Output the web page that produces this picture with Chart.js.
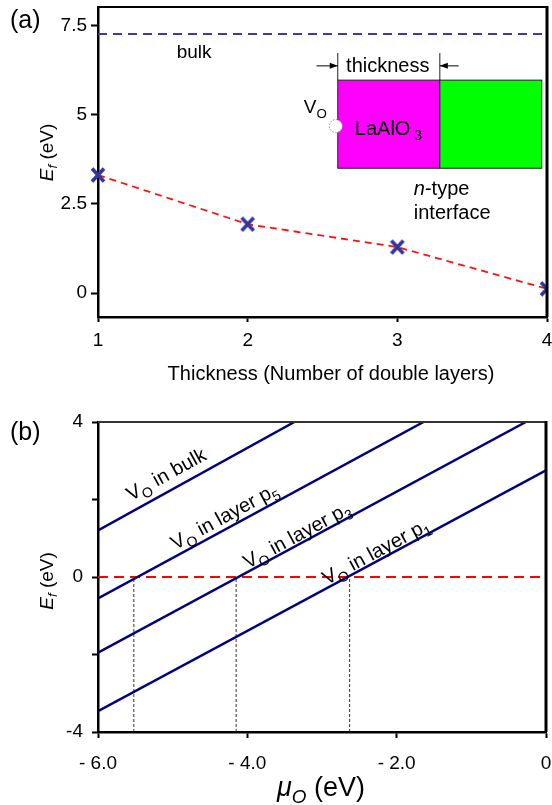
<!DOCTYPE html>
<html><head><meta charset="utf-8">
<script src="https://cdn.jsdelivr.net/npm/chart.js@4/dist/chart.umd.min.js"></script>
<style>
html,body{margin:0;padding:0;background:#fff;overflow:hidden;}
#wrap{position:relative;width:552px;height:805px;overflow:hidden;}
.box{position:absolute;left:0;}
</style></head><body>
<div id="wrap">
<div class="box" style="top:0;width:552px;height:390px"><canvas id="ca" width="552" height="390"></canvas></div>
<div class="box" style="top:390px;width:552px;height:415px"><canvas id="cb" width="552" height="415"></canvas></div>
</div>
<script>
// ---------- Panel (a) data ----------
const thicknessLayers = [1, 2, 3, 4];
const formationEnergyA = [3.31, 1.93, 1.29, 0.12];
const bulkEnergyA = 7.26;
const yTickValuesA = [0, 2.5, 5, 7.5];
const xTickValuesA = [1, 2, 3, 4];

// ---------- Panel (b) data ----------
const lineNamesB = ['bulk', 'p5', 'p3', 'p1'];
const muStartB = [-6, -6, -6, -6];
const efStartB = [1.2, -0.55, -1.95, -3.46];
const muEndB = [-3.37, -1.64, -0.27, 0];
const efEndB = [4, 4, 4, 2.75];
const muCrossB = [-5.52, -4.15, -2.63];
const yTickValuesB = [-4, -2, 0, 2, 4];
const yTickLabelsB = ['-4', '', '0', '', '4'];
const xTickValuesB = [-6, -4, -2, 0];
const xTickLabelsB = ['- 6.0', '- 4.0', '- 2.0', '0'];

const FONT = '"Liberation Sans", Arial, Helvetica, sans-serif';

function fontFor(style, size) {
  const s = style.indexOf('sub') >= 0 ? size * 0.7 : size;
  return (style.indexOf('it') >= 0 ? 'italic ' : '') + s + 'px ' + FONT;
}
// parts: [[text, style]] ; style may contain 'it' and/or 'sub'
function rich(ctx, parts, x, y, size, align, subDy) {
  const widths = parts.map(p => { ctx.font = fontFor(p[1], size); return ctx.measureText(p[0]).width; });
  const total = widths.reduce((a, b) => a + b, 0);
  let cx = align === 'center' ? x - total / 2 : (align === 'right' ? x - total : x);
  ctx.textAlign = 'left';
  ctx.textBaseline = 'alphabetic';
  parts.forEach((p, i) => {
    ctx.font = fontFor(p[1], size);
    const dy = p[1].indexOf('sub') >= 0 ? (subDy != null ? subDy : size * 0.28) : 0;
    ctx.fillText(p[0], cx, y + dy);
    cx += widths[i];
  });
}
function arrow(ctx, x0, y0, x1, y1) {
  ctx.beginPath(); ctx.moveTo(x0, y0); ctx.lineTo(x1, y1); ctx.stroke();
  const dir = Math.sign(x1 - x0);
  ctx.beginPath();
  ctx.moveTo(x1, y1);
  ctx.lineTo(x1 - dir * 8, y1 - 3);
  ctx.lineTo(x1 - dir * 8, y1 + 3);
  ctx.closePath(); ctx.fill();
}

function fixTicks(values) {
  return s => { s.ticks = values.map(v => ({ value: v })); };
}
function fitX(h) {
  return s => { s.height = h; s.paddingLeft = 0; s.paddingRight = 0; };
}
function fitY(w) {
  return s => { s.width = w; s.paddingTop = 0; s.paddingBottom = 0; };
}

// x-shaped marker used as point style
const crossMarker = (() => {
  const c = document.createElement('canvas');
  c.width = 16; c.height = 16;
  const g = c.getContext('2d');
  g.strokeStyle = '#34349a';
  g.lineWidth = 3.6;
  g.lineCap = 'butt';
  g.beginPath();
  g.moveTo(2, 1.5); g.lineTo(14, 14.5);
  g.moveTo(14, 1.5); g.lineTo(2, 14.5);
  g.stroke();
  return c;
})();

// ---------- Chart (a) ----------
const decorA = {
  id: 'decorA',
  afterDatasetsDraw(chart) {
    const ctx = chart.ctx, a = chart.chartArea;
    const X = v => chart.scales.x.getPixelForValue(v);
    const Y = v => chart.scales.y.getPixelForValue(v);
    ctx.save();
    // frame top/right
    ctx.strokeStyle = '#000';
    ctx.lineWidth = 2;
    ctx.beginPath(); ctx.moveTo(a.left, a.top); ctx.lineTo(a.right, a.top); ctx.stroke();
    ctx.lineWidth = 3;
    ctx.beginPath(); ctx.moveTo(a.right, a.top - 1); ctx.lineTo(a.right, a.bottom); ctx.stroke();

    ctx.fillStyle = '#000';
    // bulk label
    rich(ctx, [['bulk', '']], X(1.642), Y(6.60), 19, 'center');

    // inset diagram
    ctx.lineWidth = 1;
    ctx.strokeStyle = '#222';
    ctx.fillStyle = '#ff00ff';
    ctx.fillRect(X(2.602), Y(5.97), X(3.284) - X(2.602), Y(3.50) - Y(5.97));
    ctx.strokeRect(X(2.602), Y(5.97), X(3.284) - X(2.602), Y(3.50) - Y(5.97));
    ctx.fillStyle = '#00ff00';
    ctx.fillRect(X(3.284), Y(5.97), X(3.965) - X(3.284), Y(3.50) - Y(5.97));
    ctx.strokeRect(X(3.284), Y(5.97), X(3.965) - X(3.284), Y(3.50) - Y(5.97));
    ctx.beginPath();
    ctx.moveTo(X(2.602), Y(6.73)); ctx.lineTo(X(2.602), Y(5.97));
    ctx.moveTo(X(3.284), Y(6.73)); ctx.lineTo(X(3.284), Y(5.97));
    ctx.stroke();
    ctx.fillStyle = '#000';
    ctx.strokeStyle = '#000';
    arrow(ctx, X(2.46), Y(6.37), X(2.602), Y(6.37));
    arrow(ctx, X(3.41), Y(6.37), X(3.284), Y(6.37));
    rich(ctx, [['thickness', '']], X(2.936), Y(6.2), 20, 'center');
    rich(ctx, [['V', ''], ['O', 'sub']], X(2.375), Y(5.05), 19, 'left', 5);
    // vacancy circle
    ctx.beginPath();
    ctx.arc(X(2.589), Y(4.68), 6.5, 0, Math.PI * 2);
    ctx.fillStyle = '#fff'; ctx.fill();
    ctx.setLineDash([1.5, 1.5]); ctx.strokeStyle = '#888'; ctx.stroke();
    ctx.setLineDash([]);
    ctx.fillStyle = '#000';
    rich(ctx, [['LaAlO', ''], [' 3', 'sub']], X(2.716), Y(4.43), 20, 'left', 5);
    rich(ctx, [['n', 'it'], ['-type', '']], X(3.11), Y(2.74), 20, 'left');
    rich(ctx, [['interface', '']], X(3.11), Y(2.09), 20, 'left');

    // panel label
    rich(ctx, [['(a)', '']], 10, 28, 25, 'left');
    // y title
    ctx.save();
    ctx.translate(53, 152.5);
    ctx.rotate(-Math.PI / 2);
    rich(ctx, [['E', 'it'], ['f', 'itsub'], [' (eV)', '']], 0, 0, 19, 'center', 4);
    ctx.restore();
    // x title
    rich(ctx, [['Thickness (Number of double layers)', '']], 331, 380, 20, 'center');
    ctx.restore();
  }
};

new Chart(document.getElementById('ca'), {
  type: 'scatter',
  data: {
    datasets: [
      {
        data: thicknessLayers.map((x, i) => ({ x, y: formationEnergyA[i] })),
        showLine: false, pointStyle: crossMarker, pointRadius: 1, pointHoverRadius: 0,
        pointBorderWidth: 0, pointHitRadius: 0,
        clip: { left: false, top: false, bottom: false, right: 0 }
      },
      {
        data: thicknessLayers.map((x, i) => ({ x, y: formationEnergyA[i] })),
        showLine: true, borderColor: '#ff1010', borderWidth: 1.8, borderDash: [7, 5],
        pointRadius: 0, pointHoverRadius: 0, pointBorderWidth: 0
      },
      {
        data: [{ x: thicknessLayers[0], y: bulkEnergyA }, { x: thicknessLayers[thicknessLayers.length - 1], y: bulkEnergyA }],
        showLine: true, borderColor: '#3b3ba3', borderWidth: 2, borderDash: [9, 6],
        pointRadius: 0, pointHoverRadius: 0, pointBorderWidth: 0
      }
    ]
  },
  options: {
    responsive: false, animation: false, events: [],
    layout: { padding: { top: 7, right: 5, left: 0, bottom: 0 } },
    plugins: { legend: { display: false }, tooltip: { enabled: false } },
    scales: {
      x: {
        type: 'linear', min: 1, max: 4,
        afterBuildTicks: fixTicks(xTickValuesA),
        afterFit: fitX(73),
        grid: { display: true, drawOnChartArea: false, drawTicks: true, tickLength: 5, tickWidth: 2, tickColor: '#000' },
        border: { display: true, color: '#000', width: 2.5 },
        ticks: { color: '#000', font: { family: FONT, size: 19 }, padding: 7, maxRotation: 0, autoSkip: false, callback: v => String(v) }
      },
      y: {
        type: 'linear', min: -0.67, max: 8.02,
        afterBuildTicks: fixTicks(yTickValuesA),
        afterFit: fitY(98),
        grid: { display: true, drawOnChartArea: false, drawTicks: true, tickLength: 7, tickWidth: 2, tickColor: '#000' },
        border: { display: true, color: '#000', width: 2.5 },
        ticks: { color: '#000', font: { family: FONT, size: 19 }, padding: 4, autoSkip: false, callback: v => String(v) }
      }
    }
  },
  plugins: [decorA]
});

// ---------- Chart (b) ----------
const labelPosB = { bulk: [-5.09, 2.66], p5: [-4.31, 1.58], p3: [-3.34, 1.09], p1: [-2.28, 0.67] };
const labelTextB = {
  bulk: [['V', ''], ['O', 'sub'], [' in bulk', '']],
  p5: [['V', ''], ['O', 'sub'], [' in layer p', ''], ['5', 'sub']],
  p3: [['V', ''], ['O', 'sub'], [' in layer p', ''], ['3', 'sub']],
  p1: [['V', ''], ['O', 'sub'], [' in layer p', ''], ['1', 'sub']]
};
const decorB = {
  id: 'decorB',
  afterDatasetsDraw(chart) {
    const ctx = chart.ctx, a = chart.chartArea;
    const X = v => chart.scales.x.getPixelForValue(v);
    const Y = v => chart.scales.y.getPixelForValue(v);
    ctx.save();
    ctx.strokeStyle = '#333';
    ctx.lineWidth = 2;
    ctx.beginPath(); ctx.moveTo(a.left, a.top); ctx.lineTo(a.right, a.top); ctx.stroke();
    ctx.strokeStyle = '#000';
    ctx.lineWidth = 3;
    ctx.beginPath(); ctx.moveTo(a.right, a.top - 1); ctx.lineTo(a.right, a.bottom); ctx.stroke();

    ctx.fillStyle = '#000';
    lineNamesB.forEach((name, i) => {
      const ang = Math.atan2(Y(efEndB[i]) - Y(efStartB[i]), X(muEndB[i]) - X(muStartB[i]));
      const p = labelPosB[name];
      ctx.save();
      ctx.translate(X(p[0]), Y(p[1]));
      ctx.rotate(ang);
      rich(ctx, labelTextB[name], 0, 7, 20, 'center', 5);
      ctx.restore();
    });

    rich(ctx, [['(b)', '']], 10, 50, 25, 'left');
    ctx.save();
    ctx.translate(53, 191);
    ctx.rotate(-Math.PI / 2);
    rich(ctx, [['E', 'it'], ['f', 'itsub'], [' (eV)', '']], 0, 0, 19, 'center', 4);
    ctx.restore();
    rich(ctx, [['μ', 'it'], ['O', 'itsub'], [' (eV)', '']], 321, 406, 27, 'center', 7);
    ctx.restore();
  }
};

const dsB = [];
lineNamesB.forEach((name, i) => {
  dsB.push({
    data: [{ x: muStartB[i], y: efStartB[i] }, { x: muEndB[i], y: efEndB[i] }],
    showLine: true, borderColor: '#000080', borderWidth: 2.5,
    pointRadius: 0, pointHoverRadius: 0, pointBorderWidth: 0
  });
});
dsB.push({
  data: [{ x: xTickValuesB[0], y: 0 }, { x: xTickValuesB[xTickValuesB.length - 1], y: 0 }],
  showLine: true, borderColor: '#ff0000', borderWidth: 2.2, borderDash: [10, 6],
  pointRadius: 0, pointHoverRadius: 0, pointBorderWidth: 0
});
muCrossB.forEach(m => {
  dsB.push({
    data: [{ x: m, y: yTickValuesB[0] }, { x: m, y: 0 }],
    showLine: true, borderColor: '#333', borderWidth: 1, borderDash: [3, 2],
    pointRadius: 0, pointHoverRadius: 0, pointBorderWidth: 0
  });
});

new Chart(document.getElementById('cb'), {
  type: 'scatter',
  data: { datasets: dsB },
  options: {
    responsive: false, animation: false, events: [],
    layout: { padding: { top: 32, right: 6, left: 0, bottom: 0 } },
    plugins: { legend: { display: false }, tooltip: { enabled: false } },
    scales: {
      x: {
        type: 'linear', min: -6, max: 0,
        afterBuildTicks: fixTicks(xTickValuesB),
        afterFit: fitX(73),
        grid: { display: true, drawOnChartArea: false, drawTicks: true, tickLength: 6, tickWidth: 2, tickColor: '#000' },
        border: { display: true, color: '#000', width: 2.5 },
        ticks: { color: '#000', font: { family: FONT, size: 19 }, padding: 14, maxRotation: 0, autoSkip: false,
          callback: v => xTickLabelsB[xTickValuesB.indexOf(v)] }
      },
      y: {
        type: 'linear', min: -4, max: 4,
        afterBuildTicks: fixTicks(yTickValuesB),
        afterFit: fitY(98),
        grid: { display: true, drawOnChartArea: false, drawTicks: true, tickLength: 6, tickWidth: 2, tickColor: '#000' },
        border: { display: true, color: '#000', width: 2.5 },
        ticks: { color: '#000', font: { family: FONT, size: 19 }, padding: 9, autoSkip: false,
          callback: v => yTickLabelsB[yTickValuesB.indexOf(v)] }
      }
    }
  },
  plugins: [decorB]
});
</script>
</body></html>
